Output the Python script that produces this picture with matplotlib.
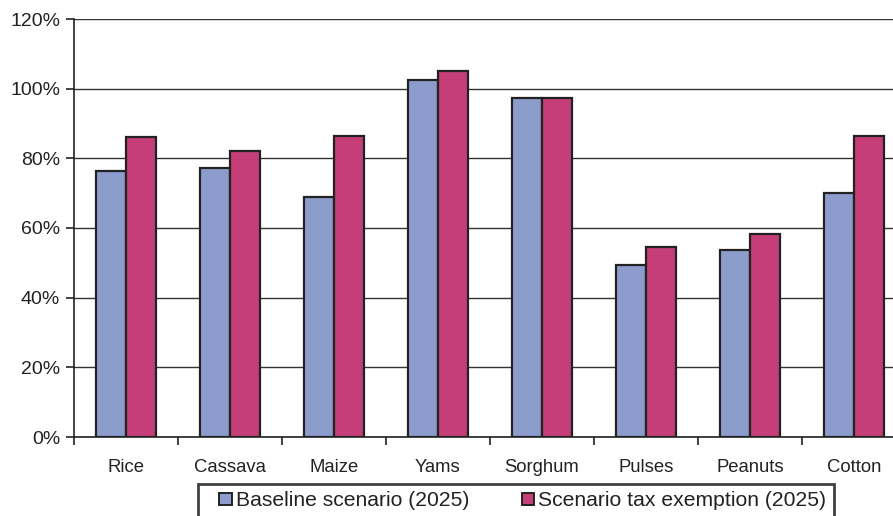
import matplotlib
matplotlib.use("Agg")
import matplotlib.pyplot as plt
import numpy as np
from matplotlib.ticker import FuncFormatter, MultipleLocator
from matplotlib.patches import Patch, Rectangle
from matplotlib.legend_handler import HandlerPatch

crops = ["Rice", "Cassava", "Maize", "Yams", "Sorghum", "Pulses", "Peanuts", "Cotton"]
baseline = [76.4, 77.2, 68.9, 102.4, 97.2, 49.3, 53.7, 70.0]
tax_exemption = [86.1, 82.2, 86.4, 105.0, 97.2, 54.6, 58.2, 86.5]
series_labels = ["Baseline scenario (2025)", "Scenario tax exemption (2025)"]

plt.rcParams["font.family"] = ["Liberation Sans", "DejaVu Sans"]

W, H = 893, 516
fig = plt.figure(figsize=(W / 100, H / 100), dpi=100)
left, right, bottom, top = 74, 906, 437, 19
ax = fig.add_axes([left / W, (H - bottom) / H, (right - left) / W, (bottom - top) / H])

x = np.arange(len(crops))
bw = 0.285
col_base = "#8c9ccc"
col_tax = "#c63e77"
edge = "#222222"

ax.bar(x - bw / 2, baseline, bw, color=col_base, edgecolor=edge, linewidth=1.6, zorder=3)
ax.bar(x + bw / 2, tax_exemption, bw, color=col_tax, edgecolor=edge, linewidth=1.6, zorder=3)

ax.set_xlim(-0.5, len(crops) - 0.5)
ax.set_ylim(0, 120)
ax.yaxis.set_major_locator(MultipleLocator(20))
ax.yaxis.set_major_formatter(FuncFormatter(lambda v, p: f"{v:.0f}%"))
ax.yaxis.grid(True, color="#333333", linewidth=1.0, zorder=0)
ax.set_axisbelow(True)

ax.set_xticks(x)
ax.set_xticklabels(crops, fontsize=13.3, color="#222222")
ax.set_xticks(np.arange(len(crops) + 1) - 0.5, minor=True)
ax.tick_params(axis="x", which="major", length=0, pad=16)
ax.tick_params(axis="x", which="minor", length=6, width=1.2, color="#222222", direction="out")
ax.tick_params(axis="y", length=6, width=1.2, color="#222222", labelsize=14, labelcolor="#222222", pad=4)

for s in ["top", "right"]:
    ax.spines[s].set_visible(False)
ax.spines["left"].set_color("#222222")
ax.spines["left"].set_linewidth(1.2)
ax.spines["bottom"].set_color("#222222")
ax.spines["bottom"].set_linewidth(1.2)


class SquareRight(HandlerPatch):
    """Small square swatch drawn at the right end of the handle box."""
    def create_artists(self, legend, orig_handle, xdescent, ydescent,
                       width, height, fontsize, trans):
        s = height * 1.0
        r = Rectangle((width - xdescent - s, -ydescent + (height - s) / 2), s, s,
                      facecolor=orig_handle.get_facecolor(),
                      edgecolor=orig_handle.get_edgecolor(),
                      linewidth=orig_handle.get_linewidth(), transform=trans)
        return [r]


handles = [Patch(facecolor=col_base, edgecolor=edge, linewidth=1.4),
           Patch(facecolor=col_tax, edgecolor=edge, linewidth=1.4)]
leg = fig.legend(handles, series_labels, ncol=2, loc="upper left",
                 bbox_to_anchor=(198 / W, (H - 484) / H), fontsize=15.2,
                 frameon=True, fancybox=False, edgecolor="#111111",
                 handlelength=1.25, handleheight=0.55, handletextpad=0.18,
                 columnspacing=1.85, borderpad=0.35, borderaxespad=0,
                 handler_map={Patch: SquareRight()})
leg.get_frame().set_linewidth(2.0)
for t in leg.get_texts():
    t.set_color("#222222")

fig.savefig("out.png", dpi=100)
